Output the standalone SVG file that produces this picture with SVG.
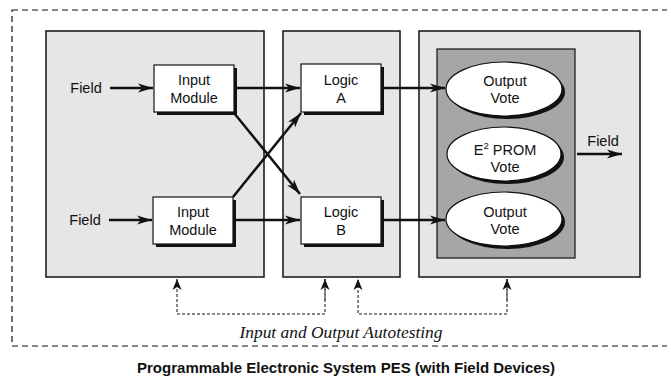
<svg xmlns="http://www.w3.org/2000/svg" width="667" height="378" viewBox="0 0 667 378">
<defs>
<style>
.panel{fill:#e6e6e6;stroke:#111;stroke-width:1.5}
.box{fill:#fff;stroke:#111;stroke-width:1.2}
.shadow{fill:#111}
.lbl{font-family:"Liberation Sans",Arial,sans-serif;font-size:14.5px;fill:#111;text-anchor:middle}
.conn{stroke:#111;stroke-width:2.5;fill:none}
.dot{stroke:#111;stroke-width:1;stroke-dasharray:3 2;fill:none}
</style>
<marker id="ah" markerUnits="userSpaceOnUse" markerWidth="16" markerHeight="12" viewBox="0 0 16 12" refX="15" refY="6" orient="auto">
<path d="M0,1.5 L15,6 L0,10.5 L4,6 Z" fill="#111"/>
</marker>
<marker id="ahd" markerUnits="userSpaceOnUse" markerWidth="12" markerHeight="12" viewBox="0 0 12 12" refX="11" refY="6" orient="auto">
<path d="M0,1.5 L11,6 L0,10.5 L3,6 Z" fill="#111"/>
</marker>
</defs>
<rect width="667" height="378" fill="#fff"/>
<rect id="outer" x="12" y="10" width="660" height="336" fill="none" stroke="#111" stroke-width="1.2" stroke-dasharray="6 4"/>

<g id="panel-input"><rect class="panel" x="46" y="31" width="218" height="246"/></g>
<g id="panel-logic"><rect class="panel" x="283" y="31" width="117" height="246"/></g>
<g id="panel-output"><rect class="panel" x="419" y="31" width="221" height="246"/>
<rect x="437" y="49" width="138" height="209" fill="#a6a6a6" stroke="#111" stroke-width="1.2"/></g>

<g id="input-module-a"><rect class="shadow" x="157" y="68" width="80" height="47"/><rect class="box" x="154" y="65" width="80" height="47"/>
<text class="lbl" x="194" y="85">Input</text><text class="lbl" x="194" y="103">Module</text></g>
<g id="input-module-b"><rect class="shadow" x="156" y="200" width="80" height="47"/><rect class="box" x="153" y="197" width="80" height="47"/>
<text class="lbl" x="193" y="217">Input</text><text class="lbl" x="193" y="235">Module</text></g>
<g id="logic-a"><rect class="shadow" x="304" y="67" width="80" height="48"/><rect class="box" x="301" y="64" width="80" height="48"/>
<text class="lbl" x="341" y="85">Logic</text><text class="lbl" x="341" y="103">A</text></g>
<g id="logic-b"><rect class="shadow" x="304" y="200" width="80" height="47"/><rect class="box" x="301" y="197" width="80" height="47"/>
<text class="lbl" x="341" y="217">Logic</text><text class="lbl" x="341" y="235">B</text></g>
<g id="output-vote-a"><ellipse class="shadow" cx="507" cy="92" rx="58" ry="27"/><ellipse class="box" cx="504" cy="89" rx="58" ry="27"/>
<text class="lbl" x="505" y="86">Output</text><text class="lbl" x="505" y="103">Vote</text></g>
<g id="eprom-vote"><ellipse class="shadow" cx="507" cy="157" rx="57" ry="27"/><ellipse class="box" cx="504" cy="154" rx="57" ry="27"/>
<text class="lbl" x="505" y="155">E<tspan font-size="9.5" dy="-6">2</tspan><tspan dy="6"> PROM</tspan></text><text class="lbl" x="505" y="172">Vote</text></g>
<g id="output-vote-b"><ellipse class="shadow" cx="507" cy="222" rx="58" ry="27"/><ellipse class="box" cx="504" cy="219" rx="58" ry="27"/>
<text class="lbl" x="505" y="217">Output</text><text class="lbl" x="505" y="234">Vote</text></g>

<g id="field-labels">
<text class="lbl" x="86" y="93">Field</text>
<text class="lbl" x="85" y="225">Field</text>
<text class="lbl" x="603" y="146">Field</text>
</g>

<g id="connectors">
<line class="conn" x1="110" y1="88" x2="153" y2="88" marker-end="url(#ah)"/>
<line class="conn" x1="109" y1="220" x2="152" y2="220" marker-end="url(#ah)"/>
<line class="conn" x1="235" y1="88" x2="300" y2="88" marker-end="url(#ah)"/>
<line class="conn" x1="234" y1="220" x2="300" y2="220" marker-end="url(#ah)"/>
<line class="conn" x1="234" y1="113" x2="300" y2="194" marker-end="url(#ah)"/>
<line class="conn" x1="233" y1="197" x2="301" y2="113" marker-end="url(#ah)"/>
<line class="conn" x1="382" y1="88" x2="445" y2="88" marker-end="url(#ah)"/>
<line class="conn" x1="382" y1="220" x2="445" y2="220" marker-end="url(#ah)"/>
<line class="conn" x1="577" y1="154" x2="622" y2="154" marker-end="url(#ah)"/>
<polyline class="dot" points="325,279 325,314 177,314 177,279" marker-end="url(#ahd)"/>
<line class="dot" x1="325" y1="300" x2="325" y2="279" marker-end="url(#ahd)"/>
<polyline class="dot" points="507,279 507,314 358,314 358,279" marker-end="url(#ahd)"/>
<line class="dot" x1="507" y1="300" x2="507" y2="279" marker-end="url(#ahd)"/>
</g>

<text x="341" y="338" font-family="'Liberation Serif','Times New Roman',serif" font-style="italic" font-size="16" fill="#111" text-anchor="middle" textLength="203" lengthAdjust="spacingAndGlyphs">Input and Output Autotesting</text>
<text x="346" y="373" font-family="'Liberation Sans',Arial,sans-serif" font-weight="bold" font-size="15" fill="#111" text-anchor="middle" textLength="418" lengthAdjust="spacingAndGlyphs">Programmable Electronic System PES (with Field Devices)</text>
</svg>
